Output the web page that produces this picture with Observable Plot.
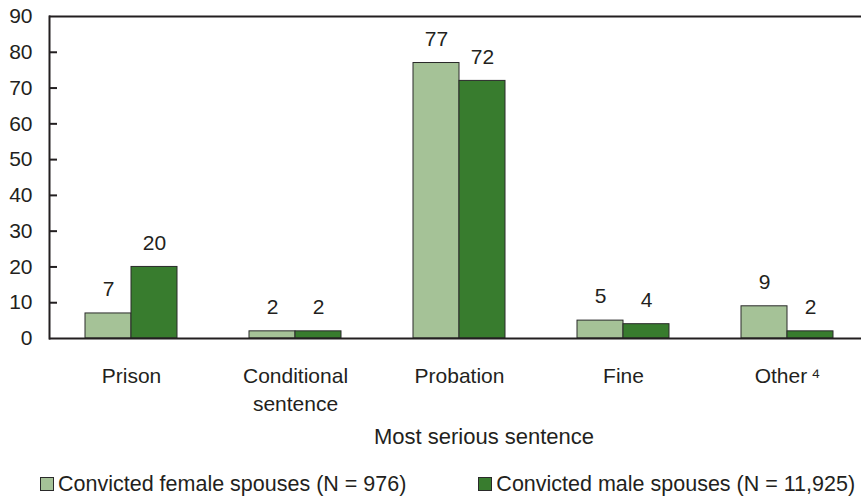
<!DOCTYPE html>
<html>
<head>
<meta charset="utf-8">
<script src="https://cdn.jsdelivr.net/npm/d3@7"></script>
<script src="https://cdn.jsdelivr.net/npm/@observablehq/plot@0.6"></script>
<style>
  html, body { margin: 0; padding: 0; background: #fff; overflow: hidden; }
  body { width: 861px; height: 498px; font-family: "Liberation Sans", Arial, Helvetica, sans-serif; color: #231f20; }
  #title { font-size: 22px; line-height: 24px; text-align: center; padding-left: 107px; margin-top: 5px; }
  #legend { font-size: 21.5px; line-height: 24px; margin-top: 23px; display: flex; align-items: center; }
  .item { display: flex; align-items: center; }
  .sw { width: 14px; height: 14px; border: 1px solid #2a2a2a; margin-right: 4px; box-sizing: border-box; }
</style>
</head>
<body>
<div id="chart"></div>
<div id="title">Most serious sentence</div>
<div id="legend"></div>
<script>
const categories = ["Prison", "Conditional sentence", "Probation", "Fine", "Other"];
const categoryLabels = ["Prison", "Conditional\nsentence", "Probation", "Fine", "Other\u2009\u2074"];
const series = ["Convicted female spouses (N = 976)", "Convicted male spouses (N = 11,925)"];
const femaleValues = [7, 2, 77, 5, 9];
const maleValues = [20, 2, 72, 4, 2];
const colors = ["#a5c297", "#387c2e"];
const yTicks = [0, 10, 20, 30, 40, 50, 60, 70, 80, 90];

const data = [];
categories.forEach((c, i) => {
  data.push({category: c, series: series[0], value: femaleValues[i]});
  data.push({category: c, series: series[1], value: maleValues[i]});
});
const labelOf = new Map(categories.map((c, i) => [c, categoryLabels[i]]));
const ink = "#231f20";

const chart = Plot.plot({
  width: 861,
  height: 420,
  marginTop: 16,
  marginBottom: 82,
  marginLeft: 49,
  marginRight: -8,
  style: {fontFamily: "Liberation Sans, Arial, Helvetica, sans-serif", fontSize: "21px", color: ink, background: "#fff"},
  fx: {domain: categories, paddingInner: 0, paddingOuter: 0},
  x: {domain: series, paddingInner: 0, paddingOuter: 0.745, axis: null},
  y: {domain: [0, 90]},
  color: {domain: series, range: colors},
  marks: [
    Plot.barY(data, {fx: "category", x: "series", y: "value", fill: "series", stroke: "#2a2a2a", strokeWidth: 1}),
    Plot.text(data, {fx: "category", x: "series", y: "value", text: d => String(d.value), dy: -24, fill: ink}),
    Plot.ruleY([0, 90], {stroke: ink, strokeWidth: 2}),
    Plot.frame({anchor: "left", facetAnchor: "left", stroke: ink, strokeWidth: 2}),
    Plot.axisY({ticks: yTicks, tickSize: 0, tickPadding: 17, label: null, fill: ink}),
    Plot.axisY({ticks: yTicks.slice(1, -1), tickSize: -8, fill: "none", stroke: ink, strokeWidth: 2, label: null}),
    Plot.axisFx({anchor: "bottom", tickSize: 0, tickPadding: 25, label: null, lineHeight: 1.33, tickFormat: d => labelOf.get(d), fill: ink})
  ]
});
document.getElementById("chart").appendChild(chart);

const legend = document.getElementById("legend");
series.forEach((s, i) => {
  const item = document.createElement("div");
  item.className = "item";
  item.style.marginLeft = i === 0 ? "40px" : "72px";
  const sw = document.createElement("div");
  sw.className = "sw";
  sw.style.background = colors[i];
  const t = document.createElement("span");
  t.textContent = s;
  item.appendChild(sw);
  item.appendChild(t);
  legend.appendChild(item);
});
</script>
</body>
</html>
